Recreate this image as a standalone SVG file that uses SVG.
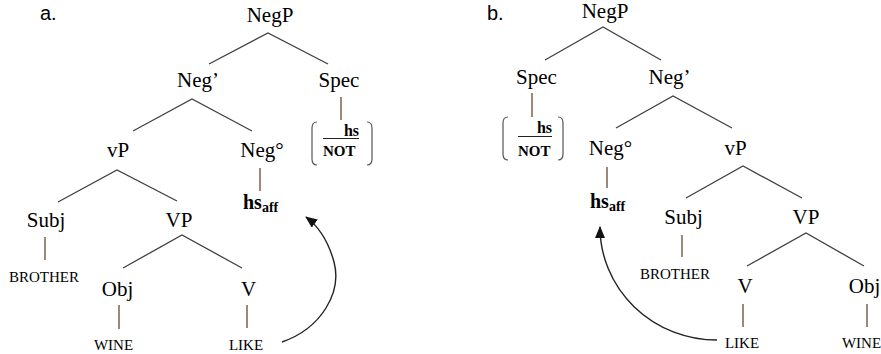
<svg xmlns="http://www.w3.org/2000/svg" width="881" height="354" viewBox="0 0 881 354">
  <style>
    .lbl { font-family: "Liberation Serif", "DejaVu Serif", serif; font-size: 21px; fill: #000; text-anchor: middle; }
    .lex { font-family: "Liberation Serif", "DejaVu Serif", serif; font-size: 15px; fill: #000; text-anchor: middle; }
    .bold { font-family: "Liberation Serif", "DejaVu Serif", serif; font-weight: bold; fill: #000; }
    .tag { font-family: "Liberation Sans", Arial, sans-serif; font-size: 20px; fill: #000; }
    .branch { stroke: #404040; stroke-width: 1.3; fill: none; }
    .stem { stroke: #6a4a30; stroke-width: 1.3; fill: none; }
    .paren { stroke: #555; stroke-width: 1.2; fill: none; }
    .move { stroke: #222; stroke-width: 1.4; fill: none; marker-end: url(#head); }
  </style>
  <defs>
    <marker id="head" viewBox="0 0 12 10" refX="11" refY="5" markerWidth="12" markerHeight="10" markerUnits="userSpaceOnUse" orient="auto">
      <path d="M0,0 L12,5 L0,10 Z" fill="#111"/>
    </marker>
  </defs>
  <rect width="881" height="354" fill="#fff"/>

  <!-- Tree a: Spec on the right -->
  <text class="tag" x="40" y="20">a.</text>
  <g id="connectors-a">
    <path class="branch" d="M209,64 L268,33 L328,64"/>
    <path class="branch" d="M133,131 L192,99 L252,131"/>
    <path class="branch" d="M58,202 L117,170 L177,201"/>
    <path class="branch" d="M123,268 L182,235 L242,268"/>
    <path class="stem" d="M341,97 V120"/>
    <path class="stem" d="M260,168 V191"/>
    <path class="stem" d="M45,237 V260"/>
    <path class="stem" d="M119,305 V329"/>
    <path class="stem" d="M247,305 V328"/>
    <path class="move" d="M282,342 C322,328 342,292 334,262 C328,240 318,226 306,217"/>
  </g>
  <g id="a-negp"><text class="lbl" x="270" y="22">NegP</text></g>
  <g id="a-negbar"><text class="lbl" x="198" y="87">Neg’</text></g>
  <g id="a-spec"><text class="lbl" x="339" y="87">Spec</text></g>
  <g id="a-spec-content">
    <path class="paren" d="M317,122 Q312,122 312,128 V159 Q312,165 317,165"/>
    <path class="paren" d="M367,122 Q372,122 372,128 V159 Q372,165 367,165"/>
    <text class="bold" x="359" y="136" font-size="16" text-anchor="end">hs</text>
    <line x1="323" y1="138.5" x2="359" y2="138.5" stroke="#222" stroke-width="1.2"/>
    <text class="bold" x="323" y="156" font-size="15">NOT</text>
  </g>
  <g id="a-vp-small"><text class="lbl" x="118" y="157">vP</text></g>
  <g id="a-neghead"><text class="lbl" x="262" y="157">Neg°</text></g>
  <g id="a-hsaff"><text class="bold" x="243" y="209" font-size="20">hs<tspan font-size="14" dy="3">aff</tspan></text></g>
  <g id="a-subj"><text class="lbl" x="46" y="227">Subj</text></g>
  <g id="a-vp"><text class="lbl" x="179" y="227">VP</text></g>
  <g id="a-brother"><text class="lex" x="44" y="282">BROTHER</text></g>
  <g id="a-obj"><text class="lbl" x="117.5" y="296">Obj</text></g>
  <g id="a-v"><text class="lbl" x="248.5" y="296">V</text></g>
  <g id="a-wine"><text class="lex" x="113.5" y="350">WINE</text></g>
  <g id="a-like"><text class="lex" x="246" y="350">LIKE</text></g>

  <!-- Tree b: Spec on the left -->
  <text class="tag" x="487" y="20">b.</text>
  <g id="connectors-b">
    <path class="branch" d="M545,60 L603,27 L661,60"/>
    <path class="branch" d="M616,128 L673,96 L732,128"/>
    <path class="branch" d="M686,198 L743,166 L802,198"/>
    <path class="branch" d="M747,266 L806,233 L864,266"/>
    <path class="stem" d="M532,93 V117"/>
    <path class="stem" d="M607,167 V188"/>
    <path class="stem" d="M682,235 V257"/>
    <path class="stem" d="M743,304 V327"/>
    <path class="stem" d="M867,304 V327"/>
    <path class="move" d="M717,340 A117 113 0 0 1 600,227"/>
  </g>
  <g id="b-negp"><text class="lbl" x="605" y="18">NegP</text></g>
  <g id="b-spec"><text class="lbl" x="536.5" y="84">Spec</text></g>
  <g id="b-negbar"><text class="lbl" x="669.5" y="84">Neg’</text></g>
  <g id="b-spec-content">
    <path class="paren" d="M508,117 Q503,117 503,123 V154 Q503,160 508,160"/>
    <path class="paren" d="M558,117 Q563,117 563,123 V154 Q563,160 558,160"/>
    <text class="bold" x="552" y="133" font-size="16" text-anchor="end">hs</text>
    <line x1="518" y1="136.5" x2="552" y2="136.5" stroke="#222" stroke-width="1.2"/>
    <text class="bold" x="518" y="156" font-size="15">NOT</text>
  </g>
  <g id="b-neghead"><text class="lbl" x="610.5" y="155">Neg°</text></g>
  <g id="b-vp-small"><text class="lbl" x="735.5" y="155">vP</text></g>
  <g id="b-hsaff"><text class="bold" x="590" y="208" font-size="20">hs<tspan font-size="14" dy="3">aff</tspan></text></g>
  <g id="b-subj"><text class="lbl" x="683.5" y="224">Subj</text></g>
  <g id="b-vp"><text class="lbl" x="806" y="224">VP</text></g>
  <g id="b-brother"><text class="lex" x="675" y="279">BROTHER</text></g>
  <g id="b-v"><text class="lbl" x="745" y="293">V</text></g>
  <g id="b-obj"><text class="lbl" x="864.5" y="293">Obj</text></g>
  <g id="b-like"><text class="lex" x="742" y="348">LIKE</text></g>
  <g id="b-wine"><text class="lex" x="861.5" y="348">WINE</text></g>
</svg>
